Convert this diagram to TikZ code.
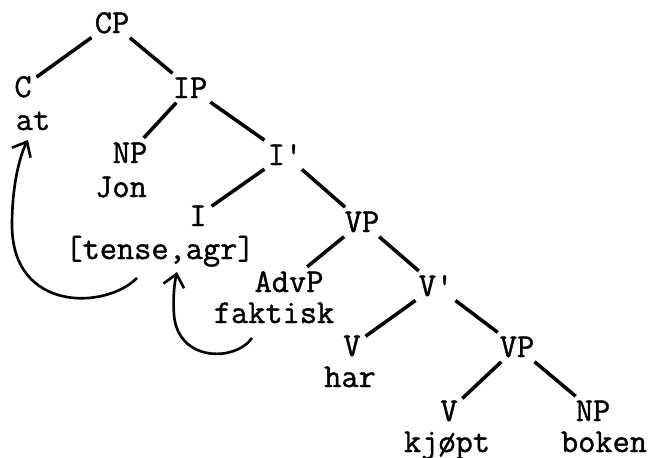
\documentclass[tikz,border=0pt]{standalone}
\usepackage{fontspec}
\newfontfamily\tw{Latin Modern Mono}[FakeBold=1.2]
\usetikzlibrary{arrows.meta}
\begin{document}
\begin{tikzpicture}[x=0.02cm, y=-0.02cm,
  lab/.style={anchor=base, inner sep=1pt,
              font=\tw\fontsize{19pt}{22pt}\selectfont},
  branch/.style={line width=2pt, shorten <=2pt, shorten >=2pt},
  mv/.style={line width=1.5pt, -{Straight Barb[length=7pt, width=12pt]}},
]
\useasboundingbox (0,0) rectangle (652,457);
\node[lab] (cp) at (112,33) {CP};
\node[lab] (c) at (23,97) {C};
\node[lab] (at) at (33,130) {at};
\node[lab] (ip) at (190,98) {IP};
\node[lab] (np) at (130,163) {NP};
\node[lab] (jon) at (121,197) {Jon};
\node[lab] (ibar) at (285,165) {I'};
\node[lab] (i) at (198,226) {I};
\node[lab] (tense) at (160,259) {[tense,agr]};
\node[lab] (vp) at (362,232) {VP};
\node[lab] (advp) at (289,292) {AdvP};
\node[lab] (faktisk) at (274,323) {faktisk};
\node[lab] (vbar) at (436,296) {V'};
\node[lab] (v) at (352,356) {V};
\node[lab] (har) at (350,387) {har};
\node[lab] (vpb) at (517,357) {VP};
\node[lab] (vb) at (449,421) {V};
\node[lab] (kjopt) at (447,452) {kjøpt};
\node[lab] (npb) at (593,421) {NP};
\node[lab] (boken) at (604,452) {boken};
\draw[branch] (cp) -- (c);
\draw[branch] (cp) -- (ip);
\draw[branch] (ip) -- (np);
\draw[branch] (ip) -- (ibar);
\draw[branch] (ibar) -- (i);
\draw[branch] (ibar) -- (vp);
\draw[branch] (vp) -- (advp);
\draw[branch] (vp) -- (vbar);
\draw[branch] (vbar) -- (v);
\draw[branch] (vbar) -- (vpb);
\draw[branch] (vpb) -- (vb);
\draw[branch] (vpb) -- (npb);
\draw[mv] ([shift={(-23,19)}]tense.base) .. controls (105,310) and (12,312) .. (12,225)
  .. controls (12,185) and (20,155) .. ([shift={(-5,10)}]at.base);
\draw[mv] ([shift={(-22,15)}]faktisk.base) .. controls (235,362) and (178,362) .. (174,315)
  .. controls (173,298) and (174,285) .. ([shift={(17,13)}]tense.base);
\end{tikzpicture}
\end{document}
